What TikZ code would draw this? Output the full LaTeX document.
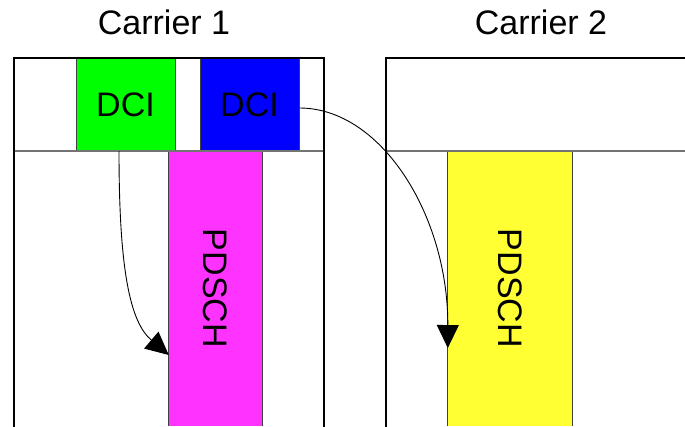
\documentclass[tikz,border=0pt]{standalone}
\usepackage{fontspec}
\setmainfont{Liberation Sans}
\usetikzlibrary{arrows.meta}
\definecolor{dcigreen}{RGB}{0,255,0}
\definecolor{dciblue}{RGB}{0,0,255}
\definecolor{pdschmagenta}{RGB}{255,51,255}
\definecolor{pdschyellow}{RGB}{255,255,51}
\begin{document}
\begin{tikzpicture}[x=1pt,y=-1pt,
  big/.style={font=\fontsize{34}{40}\selectfont},
  frame/.style={line width=1.3pt,black},
  ctrlline/.style={line width=1.3pt,black!55},
  dcibox/.style={big,draw=black!75,line width=1pt,minimum width=99pt,minimum height=93pt,inner sep=0pt},
  pdschbox/.style={big,minimum width=93pt,minimum height=275pt,inner sep=0pt},
  pdschedge/.style={line width=1pt,black!75},
  grant/.style={line width=0.9pt,black,-{Triangle[length=23pt,width=22pt]}}
]
\clip (0,0) rectangle (685,426);
\fill[white] (0,0) rectangle (685,426);

% carrier titles
\node[big,anchor=base] (t1) at (164,34) {Carrier 1};
\node[big,anchor=base] (t2) at (541,34) {Carrier 2};

% PDSCH regions
\node[pdschbox,fill=pdschmagenta] (pd1) at (215.5,288.5) {\rotatebox{-90}{PDSCH}};
\node[pdschbox,fill=pdschyellow,minimum width=124pt] (pd2) at (510,288.5) {\rotatebox{-90}{PDSCH}};
\draw[pdschedge] (pd1.north west) -- (pd1.south west) (pd1.north east) -- (pd1.south east);
\draw[pdschedge] (pd2.north west) -- (pd2.south west) (pd2.north east) -- (pd2.south east);

% DCI blocks in the control region of carrier 1
\node[dcibox,fill=dcigreen] (dci1) at (125.5,104.5) {DCI};
\node[dcibox,fill=dciblue] (dci2) at (249.5,104.5) {DCI};

% carrier frames
\draw[ctrlline] (14,151) -- (324,151);
\draw[ctrlline] (386,151) -- (690,151);
\draw[frame] (14,432) -- (14,58) -- (324,58) -- (324,432);
\draw[frame] (386,432) -- (386,58) -- (690,58);

% scheduling arrows
\coordinate (s1) at (119,151);
\coordinate (e1) at (pd1.west |- 0,355);
\draw[grant] (s1) .. controls (119,270) and (130,322) .. (e1);
\coordinate (s2) at (dci2.east |- 0,108);
\coordinate (e2) at (pd2.west |- 0,348);
\draw[grant] (s2) .. controls (381,108) and (448,215) .. (e2);
\end{tikzpicture}
\end{document}
